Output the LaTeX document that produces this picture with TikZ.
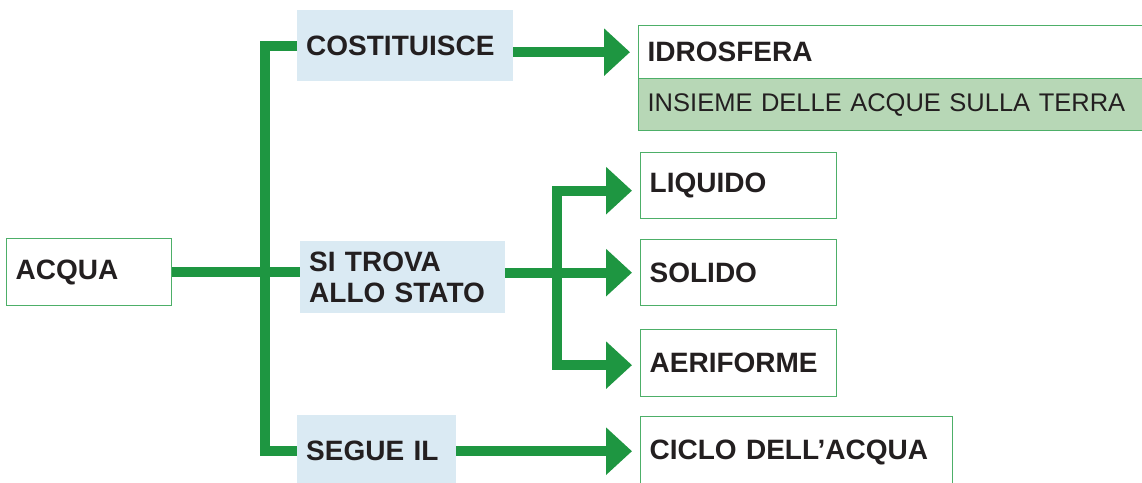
\documentclass[tikz,border=0pt]{standalone}
\usepackage{fontspec}
\setmainfont{Liberation Sans}
\usetikzlibrary{arrows.meta}
\definecolor{lgreen}{HTML}{1E9641}
\definecolor{bgreen}{HTML}{4DAF68}
\definecolor{lblue}{HTML}{DAEAF3}
\definecolor{pgreen}{HTML}{B7D7B6}
\definecolor{ink}{HTML}{231F20}
\begin{document}
\begin{tikzpicture}[x=1pt,y=-1pt,
  conn/.style={draw=lgreen, line width=10pt, line join=miter},
  arr/.style={conn, -{Triangle[length=26pt,width=46pt]}, shorten >=8pt},
  bold/.style={text=ink, font=\fontsize{28}{31}\selectfont\bfseries},
  box/.style={bold, draw=bgreen, line width=1.3pt, fill=white, anchor=north west, inner xsep=9pt, inner ysep=0pt, align=left},
  verb/.style={bold, fill=lblue, anchor=north west, inner xsep=9pt, inner ysep=0pt, align=left}]
\clip (0,0) rectangle (1142,482);
\fill[white] (0,0) rectangle (1142,482);
% nodes
\node[box, text width=147pt, minimum height=67pt] (acqua) at (6,238) {ACQUA};
\node[verb, text width=198pt, minimum height=71pt] (cost) at (297,10) {COSTITUISCE};
\node[verb, text width=187pt, minimum height=72pt] (stato) at (300,241) {SI TROVA\\ALLO STATO};
\node[verb, text width=141pt, minimum height=72pt] (segue) at (297,415) {SEGUE IL};
\node[box, text width=492pt, minimum height=53pt] (idro) at (638,25) {IDROSFERA};
\node[box, fill=pgreen, font=\fontsize{25.5}{30}\selectfont, text width=492pt, minimum height=52pt] (insieme) at (638,78) {INSIEME DELLE ACQUE SULLA TERRA};
\node[box, text width=178pt, minimum height=66pt] (liq) at (640,152) {LIQUIDO};
\node[box, text width=178pt, minimum height=66pt] (sol) at (640,239) {SOLIDO};
\node[box, text width=178pt, minimum height=67pt] (aer) at (640,329) {AERIFORME};
\node[box, text width=294pt, minimum height=72pt] (ciclo) at (640,416) {CICLO DELL’ACQUA};
% helper coordinates
\coordinate (t1) at (265,0);
\coordinate (t2) at (557,0);
\coordinate (liqin) at ([yshift=-5pt]liq.west);
\coordinate (aerin) at ([yshift=-2pt]aer.west);
% connectors
\draw[conn] (cost.west) -- (cost.west -| t1) -- (segue.west -| t1) -- (segue.west);
\draw[conn] (acqua.east) -- (acqua.east -| stato.west);
\draw[arr] (cost.east |- idro.west) -- (idro.west);
\draw[arr] (segue.east) -- (segue.east -| ciclo.west);
\draw[arr] (stato.east |- sol.west) -- (sol.west);
\draw[arr] (sol.west -| t2) -- (liqin -| t2) -- (liqin);
\draw[arr] (sol.west -| t2) -- (aerin -| t2) -- (aerin);
\end{tikzpicture}
\end{document}
